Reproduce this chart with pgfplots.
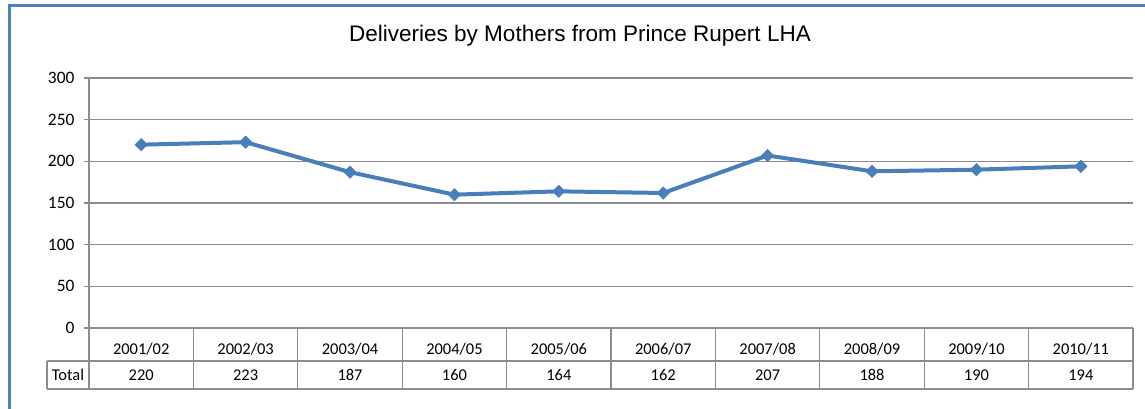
\documentclass[border=0pt]{standalone}
\usepackage{pgfplots}
\pgfplotsset{compat=1.18}
\usepackage{fontspec}
\setmainfont{Carlito}
\newfontfamily\titlefont{Liberation Sans}
\definecolor{xlblue}{RGB}{74,126,187}
\definecolor{framec}{RGB}{79,129,189}
\definecolor{gridc}{RGB}{140,140,140}
\begin{document}
\begin{tikzpicture}[x=1bp,y=1bp]
\useasboundingbox (0,0) rectangle (1145,408);
\begin{scope}
\clip (0,0) rectangle (1145,408);
\draw[framec, line width=3bp] (9,-20) -- (9,402) -- (1170,402);
\end{scope}
\node[font=\titlefont\fontsize{22.6}{24}\selectfont] at (580,372) {Deliveries by Mothers from Prince Rupert LHA};
\begin{axis}[
  at={(89bp,80bp)}, anchor=south west,
  scale only axis, width=1044bp, height=250bp,
  xmin=-0.5, xmax=9.5, ymin=0, ymax=300,
  axis lines*=left,
  axis line style={draw=gridc, line width=1.2bp},
  ytick={0,50,...,300},
  ymajorgrids, grid style={draw=gridc, line width=1.2bp},
  tick align=outside, major tick length=5bp,
  y tick style={draw=gridc, line width=1.2bp},
  xtick={0,...,9},
  x tick style={draw=none},
  xticklabels={2001/02,2002/03,2003/04,2004/05,2005/06,2006/07,2007/08,2008/09,2009/10,2010/11},
  xticklabel style={anchor=center, yshift=-16.5bp, font=\fontsize{16.5}{18}\selectfont},
  yticklabel style={font=\fontsize{17.5}{19}\selectfont, xshift=-6bp},
  /pgf/number format/assume math mode=true,
  clip=false,
]
\addplot[xlblue, line width=4bp, mark=square*, mark size=4.4bp, mark options={rotate=45, fill=xlblue, draw=xlblue, line width=0.5bp}]
 coordinates {(0,220)(1,223)(2,187)(3,160)(4,164)(5,162)(6,207)(7,188)(8,190)(9,194)};
\addplot[draw=none, nodes near coords, point meta=explicit symbolic,
  every node near coord/.style={anchor=center, yshift=-47bp, font=\fontsize{16.5}{18}\selectfont, text=black}]
 coordinates {(0,0)[220] (1,0)[223] (2,0)[187] (3,0)[160] (4,0)[164] (5,0)[162] (6,0)[207] (7,0)[188] (8,0)[190] (9,0)[194]};
\end{axis}
% table grid
\begin{scope}[draw=gridc, line width=1.2bp]
\foreach \i in {0,...,10} { \draw (89+104.4*\i,80) -- (89+104.4*\i,19); }
\draw (47,47) -- (1133,47);
\draw (47,19) -- (1133,19);
\draw (47,47) -- (47,19);
\end{scope}
\node[font=\fontsize{16.5}{18}\selectfont] at (68,33) {Total};
\end{tikzpicture}
\end{document}
